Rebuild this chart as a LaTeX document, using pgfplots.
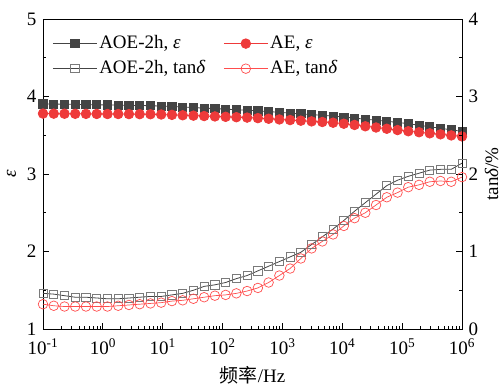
\documentclass[border=0pt]{standalone}
\usepackage{fontspec}
\setmainfont{Liberation Serif}
\newfontfamily\cjk{Noto Sans CJK SC}
\usepackage{pgfplots}
\pgfplotsset{compat=1.18}
\definecolor{dgray}{HTML}{444444}
\definecolor{mgray}{HTML}{7A7A7A}
\definecolor{ared}{HTML}{EE3A3A}
\definecolor{lred}{HTML}{FF4D4D}
\begin{document}
\fontsize{19bp}{22bp}\selectfont
\begin{tikzpicture}
\useasboundingbox (-43bp,-59bp) rectangle (461bp,329bp);
\pgfplotsset{
  every axis/.append style={
    width=419bp, height=310bp, scale only axis,
    /pgf/number format/assume math mode=true,
    tick label style={font=\fontsize{19bp}{22bp}\selectfont},
    label style={font=\fontsize{19bp}{22bp}\selectfont},
    major tick length=6bp, minor tick length=3.5bp,
    tick style={black, line width=0.8pt},
    axis line style={line width=0.9pt},
    xmode=log, xmin=0.1, xmax=1e6,
  },
}
\begin{axis}[
  ymin=1, ymax=5, ytick={1,2,3,4,5}, minor y tick num=1,
  ytick pos=left, xtick pos=bottom,
  xtick={1e-1,1e0,1e1,1e2,1e3,1e4,1e5,1e6},
  xticklabels={10\textsuperscript{-1},10\textsuperscript{0},10\textsuperscript{1},10\textsuperscript{2},10\textsuperscript{3},10\textsuperscript{4},10\textsuperscript{5},10\textsuperscript{6}},
  xticklabel style={yshift=-3bp},
  xlabel={{\cjk 频率}/Hz},
  xlabel style={yshift=2bp},
  ylabel={\textit{ε}},
  ylabel style={yshift=-2bp},
]
\addplot[dgray, line width=0.8pt, mark=square*, mark size=4.1bp, mark options={fill=dgray, draw=dgray}] coordinates {
(0.1,3.905)(0.1512,3.903)(0.2286,3.900)(0.3455,3.898)(0.5223,3.895)(0.7898,3.893)(1.194,3.891)(1.805,3.888)(2.729,3.886)(4.125,3.884)(6.236,3.881)(9.428,3.877)(14.25,3.871)(21.54,3.864)(32.57,3.857)(49.24,3.850)(74.44,3.844)(112.5,3.837)(170.1,3.830)(257.2,3.823)(388.9,3.815)(587.8,3.806)(888.7,3.796)(1343,3.786)(2031,3.777)(3070,3.767)(4642,3.757)(7017,3.748)(10608,3.735)(16037,3.721)(24245,3.707)(36652,3.694)(55410,3.680)(83768,3.666)(126640,3.649)(191450,3.629)(289400,3.609)(437500,3.590)(661400,3.570)(1000000,3.550)
};
\addplot[ared, line width=0.8pt, mark=*, mark size=4.8bp, mark options={fill=ared, draw=ared}] coordinates {
(0.1,3.780)(0.1512,3.779)(0.2286,3.778)(0.3455,3.777)(0.5223,3.776)(0.7898,3.775)(1.194,3.774)(1.805,3.774)(2.729,3.773)(4.125,3.772)(6.236,3.771)(9.428,3.768)(14.25,3.763)(21.54,3.758)(32.57,3.753)(49.24,3.748)(74.44,3.743)(112.5,3.738)(170.1,3.733)(257.2,3.728)(388.9,3.721)(587.8,3.713)(888.7,3.704)(1343,3.696)(2031,3.688)(3070,3.679)(4642,3.671)(7017,3.662)(10608,3.649)(16037,3.633)(24245,3.616)(36652,3.600)(55410,3.584)(83768,3.567)(126640,3.552)(191450,3.539)(289400,3.525)(437500,3.512)(661400,3.498)(1000000,3.485)
};
\end{axis}
\begin{axis}[
  ymin=0, ymax=4, ytick={0,1,2,3,4}, minor y tick num=1,
  axis y line*=right, axis x line=none,
  ylabel={tan\textit{δ}/\%},
  ylabel style={yshift=6bp},
  legend columns=2,
  legend style={draw=none, fill=none, at={(0.015,0.96)}, anchor=north west,
    font=\fontsize{19bp}{22bp}\selectfont, row sep=5bp,
    /tikz/every even column/.append style={column sep=16bp}},
  legend cell align=left,
  legend image code/.code={\draw[#1, mark repeat=2, mark phase=2] plot coordinates {(0bp,0bp) (22bp,0bp) (44bp,0bp)};},
]
\addlegendimage{dgray, line width=0.8pt, mark=square*, mark size=4.1bp, mark options={fill=dgray, draw=dgray}}
\addlegendentry{AOE-2h, \textit{ε}}
\addlegendimage{ared, line width=0.8pt, mark=*, mark size=4.8bp, mark options={fill=ared, draw=ared}}
\addlegendentry{AE, \textit{ε}}
\addplot[dgray, line width=0.8pt, mark=square, mark size=4.1bp, mark options={draw=mgray, fill=white, line width=0.8pt}] coordinates {
(0.1,0.46)(0.1512,0.45)(0.2286,0.43)(0.3455,0.41)(0.5223,0.41)(0.7898,0.40)(1.194,0.39)(1.805,0.39)(2.729,0.40)(4.125,0.41)(6.236,0.42)(9.428,0.42)(14.25,0.44)(21.54,0.46)(32.57,0.50)(49.24,0.55)(74.44,0.57)(112.5,0.60)(170.1,0.65)(257.2,0.69)(388.9,0.75)(587.8,0.81)(888.7,0.87)(1343,0.93)(2031,0.99)(3070,1.09)(4642,1.19)(7017,1.29)(10608,1.40)(16037,1.52)(24245,1.63)(36652,1.74)(55410,1.85)(83768,1.92)(126640,1.97)(191450,2.01)(289400,2.05)(437500,2.06)(661400,2.06)(1000000,2.14)
};
\addlegendentry{AOE-2h, tan\textit{δ}}
\addplot[lred, line width=0.7pt, mark=o, mark size=4.8bp, mark options={draw=lred, fill=white, line width=0.7pt}] coordinates {
(0.1,0.32)(0.1512,0.30)(0.2286,0.29)(0.3455,0.29)(0.5223,0.29)(0.7898,0.29)(1.194,0.29)(1.805,0.30)(2.729,0.31)(4.125,0.32)(6.236,0.33)(9.428,0.34)(14.25,0.36)(21.54,0.37)(32.57,0.39)(49.24,0.41)(74.44,0.43)(112.5,0.44)(170.1,0.46)(257.2,0.49)(388.9,0.53)(587.8,0.60)(888.7,0.69)(1343,0.78)(2031,0.91)(3070,1.04)(4642,1.13)(7017,1.22)(10608,1.33)(16037,1.43)(24245,1.50)(36652,1.60)(55410,1.70)(83768,1.76)(126640,1.83)(191450,1.86)(289400,1.90)(437500,1.91)(661400,1.90)(1000000,1.96)
};
\addlegendentry{AE, tan\textit{δ}}
\end{axis}
\end{tikzpicture}
\end{document}
